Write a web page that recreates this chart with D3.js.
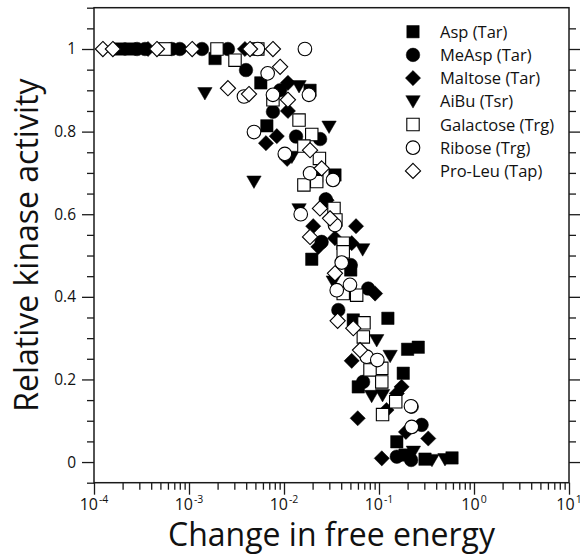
<!DOCTYPE html>
<html>
<head>
<meta charset="utf-8">
<script src="https://cdn.jsdelivr.net/npm/d3@7"></script>
<style>
  html, body { margin: 0; padding: 0; background: #fff; }
  svg { display: block; }
  text { font-family: "Open Sans", "Noto Sans", sans-serif; fill: #111; }
</style>
</head>
<body>
<svg id="chart" width="580" height="554"></svg>
<script>
// ---- data: change in free energy (x) vs relative kinase activity (y) ----
const seriesNames = ["Asp (Tar)", "MeAsp (Tar)", "Maltose (Tar)", "AiBu (Tsr)", "Galactose (Trg)", "Ribose (Trg)", "Pro-Leu (Tap)"];
const seriesShapes = ["square", "circle", "diamond", "triangle", "square", "circle", "diamond"];
const seriesFilled = [true, true, true, true, false, false, false];

const aspEnergy   = [1.88e-4, 2.39e-4, 5.6e-4, 1.88e-3, 5.7e-3, 1.88e-2, 6.6e-3, 1.97e-2, 2.21e-2, 3.44e-2, 1.96e-2, 5.04e-2, 5.36e-2, 0.124, 0.200, 0.259, 0.180, 6.05e-2, 0.154, 0.188, 0.305, 0.587];
const aspActivity = [1.0, 1.0, 1.0, 0.977, 0.918, 0.90, 0.814, 0.69, 0.692, 0.695, 0.491, 0.465, 0.344, 0.348, 0.273, 0.278, 0.215, 0.182, 0.049, 0.017, 0.007, 0.01];

const measpEnergy   = [2.84e-4, 3.44e-4, 6.6e-4, 8.0e-4, 1.37e-3, 2.57e-3, 3.98e-3, 9.1e-3, 7.65e-3, 1.34e-2, 2.4e-2, 2.75e-2, 2.49e-2, 5.04e-2, 7.7e-2, 3.73e-2, 6.8e-2, 0.221, 0.281, 0.154, 0.218];
const measpActivity = [1.0, 1.0, 1.0, 1.0, 1.0, 1.0, 0.949, 0.90, 0.848, 0.788, 0.782, 0.636, 0.533, 0.477, 0.42, 0.368, 0.194, 0.134, 0.09, 0.013, 0.005];

const maltoseEnergy   = [3.7e-4, 3.88e-3, 1.1e-2, 1.1e-2, 8.4e-3, 6.46e-3, 1.08e-2, 2.81e-2, 2.03e-2, 5.73e-2, 3.44e-2, 2.3e-2, 5.16e-2, 9.1e-2, 5.16e-2, 0.173, 0.154, 0.12, 5.97e-2, 0.192, 0.33, 0.107];
const maltoseActivity = [1.0, 1.0, 0.918, 0.85, 0.789, 0.772, 0.734, 0.634, 0.571, 0.571, 0.542, 0.521, 0.53, 0.408, 0.245, 0.182, 0.166, 0.126, 0.106, 0.073, 0.057, 0.009];

const aibuEnergy   = [1.47e-3, 1.44e-2, 4.83e-3, 1.21e-2, 2.98e-2, 1.44e-2, 6.73e-2, 3.3e-2, 9.46e-2, 0.131, 8.37e-2, 0.109, 0.23, 0.361, 0.495];
const aibuActivity = [0.893, 0.91, 0.679, 0.739, 0.812, 0.612, 0.515, 0.437, 0.295, 0.257, 0.16, 0.162, 0.025, 0.005, 0.007];

const galactoseEnergy   = [5.6e-4, 1.97e-3, 5.3e-3, 3.05e-3, 7.65e-3, 1.44e-2, 1.96e-2, 1.62e-2, 2.36e-2, 1.62e-2, 2.21e-2, 3.36e-2, 3.52e-2, 4.2e-2, 4.2e-2, 4.2e-2, 5.82e-2, 6.95e-2, 6.84e-2, 0.107, 8.04e-2, 0.107, 0.15, 0.109];
const galactoseActivity = [1.0, 1.0, 1.0, 0.973, 0.877, 0.828, 0.793, 0.765, 0.735, 0.671, 0.679, 0.614, 0.586, 0.53, 0.509, 0.408, 0.404, 0.337, 0.303, 0.227, 0.223, 0.194, 0.146, 0.115];

const riboseEnergy   = [5.3e-3, 1.66e-2, 6.73e-3, 3.79e-3, 1.83e-2, 7.65e-3, 4.83e-3, 1.02e-2, 1.88e-2, 3.28e-2, 1.5e-2, 3.44e-2, 4.05e-2, 4.95e-2, 3.59e-2, 7.43e-2, 9.6e-2, 0.221, 0.217];
const riboseActivity = [1.0, 1.0, 0.941, 0.885, 0.889, 0.889, 0.799, 0.746, 0.699, 0.683, 0.60, 0.574, 0.483, 0.429, 0.416, 0.255, 0.247, 0.085, 0.135];

const proleuEnergy   = [1.24e-4, 1.58e-4, 4.6e-4, 1.08e-3, 4.39e-3, 7.65e-3, 9.1e-3, 2.57e-3, 4.28e-3, 1.1e-2, 1.88e-2, 2.49e-2, 2.39e-2, 3.05e-2, 1.88e-2, 3.44e-2, 3.67e-2, 5.36e-2, 6.31e-2];
const proleuActivity = [1.0, 1.0, 1.0, 1.0, 1.0, 1.0, 0.957, 0.905, 0.891, 0.877, 0.755, 0.711, 0.614, 0.59, 0.545, 0.457, 0.342, 0.324, 0.271];

const seriesEnergy   = [aspEnergy, measpEnergy, maltoseEnergy, aibuEnergy, galactoseEnergy, riboseEnergy, proleuEnergy];
const seriesActivity = [aspActivity, measpActivity, maltoseActivity, aibuActivity, galactoseActivity, riboseActivity, proleuActivity];

// axis ticks
const xDecades = [-4, -3, -2, -1, 0, 1];
const yMajorTicks = [0, 0.2, 0.4, 0.6, 0.8, 1];
const yLabels = ["0", "0.2", "0.4", "0.6", "0.8", "1"];

// ---- layout ----
const svg = d3.select("#chart");
const plotLeft = 94, plotRight = 569, plotTop = 7.7, plotBottom = 482.7;

const x = d3.scaleLog().domain([1e-4, 10]).range([plotLeft, plotRight]);
const y = d3.scaleLinear().domain([-0.05, 1.1]).range([plotBottom, plotTop]);

const axisColor = "#1a1a1a";

// minor tick values
const yMinor = d3.range(-0.05, 1.1001, 0.05).map(v => +v.toFixed(2)).filter(v => !yMajorTicks.includes(v));
const xMinor = [];
xDecades.slice(0, -1).forEach(e => { for (let k = 2; k <= 9; k++) xMinor.push(k * Math.pow(10, e)); });
const xMajor = xDecades.map(e => Math.pow(10, e));

function styleAxis(g) {
  g.select(".domain").remove();
  g.selectAll(".tick line").attr("stroke", axisColor).attr("stroke-width", 1.3);
}

// left axis: minor + labelled major ticks
svg.append("g").attr("transform", `translate(${plotLeft},0)`)
  .call(d3.axisLeft(y).tickValues(yMinor).tickSize(7).tickFormat(""))
  .call(styleAxis);
const yMajorG = svg.append("g").attr("transform", `translate(${plotLeft},0)`)
  .call(d3.axisLeft(y).tickValues(yMajorTicks).tickSize(12).tickPadding(6)
        .tickFormat((d, i) => yLabels[i]))
  .call(styleAxis);
yMajorG.selectAll(".tick text")
  .attr("font-family", "'Open Sans', sans-serif")
  .attr("font-size", 15.5).attr("fill", "#111");

// right axis: mirrored ticks, no labels
svg.append("g").attr("transform", `translate(${plotRight},0)`)
  .call(d3.axisRight(y).tickValues(yMinor.filter(v => v < 1.1 && v > -0.05)).tickSize(7).tickFormat(""))
  .call(styleAxis);
svg.append("g").attr("transform", `translate(${plotRight},0)`)
  .call(d3.axisRight(y).tickValues(yMajorTicks).tickSize(12).tickFormat(""))
  .call(styleAxis);

// bottom axis
svg.append("g").attr("transform", `translate(0,${plotBottom})`)
  .call(d3.axisBottom(x).tickValues(xMinor).tickSize(7).tickFormat(""))
  .call(styleAxis);
svg.append("g").attr("transform", `translate(0,${plotBottom})`)
  .call(d3.axisBottom(x).tickValues(xMajor).tickSize(12).tickFormat(""))
  .call(styleAxis);

// bottom tick labels as powers of ten
const xLab = svg.append("g");
xDecades.forEach(e => {
  const t = xLab.append("text")
    .attr("x", x(Math.pow(10, e)))
    .attr("y", 510)
    .attr("text-anchor", "middle")
    .attr("font-size", 16);
  t.append("tspan").text("10");
  t.append("tspan").attr("font-size", 10.5).attr("dx", 1).attr("dy", -7).text(String(e));
});

// frame
svg.append("rect")
  .attr("x", plotLeft).attr("y", plotTop)
  .attr("width", plotRight - plotLeft).attr("height", plotBottom - plotTop)
  .attr("fill", "none").attr("stroke", axisColor).attr("stroke-width", 1.5);

// ---- marker shapes ----
function shapePath(shape) {
  switch (shape) {
    case "square":   return "M-6.2,-6.2H6.2V6.2H-6.2Z";
    case "circle":   return "M6.8,0A6.8,6.8 0 1,1 -6.8,0A6.8,6.8 0 1,1 6.8,0Z";
    case "diamond":  return "M0,-7.6L7.6,0L0,7.6L-7.6,0Z";
    case "triangle": return "M-7.2,-5.6L7.2,-5.6L0,6.8Z";
  }
}

const plot = svg.append("g");
seriesNames.forEach((name, s) => {
  const pts = seriesEnergy[s].map((v, i) => ({ e: v, a: seriesActivity[s][i] }));
  plot.append("g").selectAll("path")
    .data(pts)
    .join("path")
    .attr("d", shapePath(seriesShapes[s]))
    .attr("transform", d => `translate(${x(d.e)},${y(d.a)})`)
    .attr("fill", seriesFilled[s] ? "#000" : "#fff")
    .attr("stroke", "#000")
    .attr("stroke-width", seriesFilled[s] ? 0.5 : 1.1);
});

// ---- legend ----
const legend = svg.append("g");
seriesNames.forEach((name, s) => {
  const ly = 31.7 + s * 23.2;
  legend.append("path")
    .attr("d", shapePath(seriesShapes[s]))
    .attr("transform", `translate(413,${ly})`)
    .attr("fill", seriesFilled[s] ? "#000" : "#fff")
    .attr("stroke", "#000")
    .attr("stroke-width", seriesFilled[s] ? 0.5 : 1.1);
  legend.append("text")
    .attr("x", 440).attr("y", ly + 6)
    .attr("font-size", 16.5)
    .text(name);
});

// ---- axis titles ----
svg.append("text")
  .attr("x", (plotLeft + plotRight) / 2).attr("y", 546)
  .attr("text-anchor", "middle")
  .attr("font-size", 32)
  .text("Change in free energy");

svg.append("text")
  .attr("transform", `translate(38,${(plotTop + plotBottom) / 2}) rotate(-90)`)
  .attr("text-anchor", "middle")
  .attr("font-size", 32)
  .text("Relative kinase activity");
</script>
</body>
</html>
